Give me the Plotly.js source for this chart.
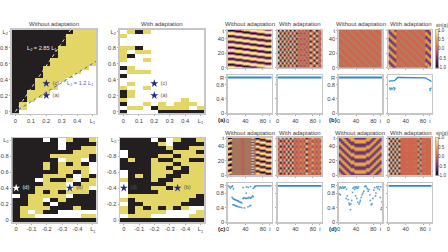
<!DOCTYPE html>
<html><head><meta charset="utf-8">
<script src="https://cdn.plot.ly/plotly-3.0.1.min.js"></script>
<style>html,body{margin:0;padding:0;background:#fff}#c{width:448px;height:252px}</style>
</head><body><div id="c"></div><script>
// Phase-diagram maps, rows listed from top to bottom. 0 white, 1 yellow, 2 black.
const mapTopNoAdapt = "22222222111 22222221111 22222221111 22222221111 22222211111 22222211111 22222211111 22222111111 22222111111 22221111110 22221111100 22221111000 22211110000 22211100000 22211100000 22111000000 22110000000 22100000000 21000000000 21000000000 20000000000".split(" ");
const mapTopAdapt = "01210000000 10000000000 00000000000 00000000000 11200000000 10110000000 12000000000 10010000000 00000000000 21000000000 01110000000 20000000000 00000000000 01000000000 10010000000 21000000000 21000000000 10000000100 20010101110 01102111101 20000222222".split(" ");
const mapBotNoAdapt = "22220201221 22222202222 22222202211 22222222111 22222111112 22222201102 22221212120 22221211110 22222211210 22221112012 22201221021 22221110211 22211110110 22212121112 02111110222 22110212222 22112022222 21111222122 21012200000 21100000011 22222222222".split(" ");
const mapBotAdapt = "22220201221 22222102222 22222212211 02222221112 02222112111 21221221122 22221112111 22221121211 02221112211 02121122111 12221221111 02222211111 02221121111 02222111111 01111111112 12111111122 02211111222 12121212100 12111100001 01110000011 22222222222".split(" ");
const posAxis = [0,0.05,0.1,0.15,0.2,0.25,0.3,0.35,0.4,0.45,0.5];
const posAxisY = [0,0.05,0.1,0.15,0.2,0.25,0.3,0.35,0.4,0.45,0.5,0.55,0.6,0.65,0.7,0.75,0.8,0.85,0.9,0.95,1];

// Spatio-temporal fields, rows top (late t) to bottom. Digits: sin(phi) level, m / g: blended tones.
const fieldA1 = "003388998833 330033889988 883300338899 998833003388 889988330033 338899883300 003388998833 330033889988 883300338899 998833003388 889988330033 338899883300 003388998833 330033889988 883300338899 998833003388 889988330033 338899883300 003388998833 330033889988 883300338899 998833003388 889988330033 338899883300 003388998833 330033889988 883300338899 998833003388 889988330033 338899883300 003388998833 330033889988 883300338899 998833003388 889988330033 338899883300 003388998833 330033889988 883300338899 998833003388".split(" ");
const fieldA2 = "0909180908364636069046 g5g5g5g5g5g5g5g5g5g5g5 9090819190635363960953 g5g5g5g5g5g5g5g5g5g5g5 0909180908364636069046 g5g5g5g5g5g5g5g5g5g5g5 9090819190635363960953 g5g5g5g5g5g5g5g5g5g5g5 0909180908364636069046 g5g5g5g5g5g5g5g5g5g5g5 9090819190635363960953 g5g5g5g5g5g5g5g5g5g5g5 0909180908364636069046 g5g5g5g5g5g5g5g5g5g5g5 9090819190635363960953 g5g5g5g5g5g5g5g5g5g5g5 0909180908364636069046 g5g5g5g5g5g5g5g5g5g5g5 9090819190635363960953 g5g5g5g5g5g5g5g5g5g5g5 0909180908364636069046 g5g5g5g5g5g5g5g5g5g5g5 9090819190635363960953 g5g5g5g5g5g5g5g5g5g5g5 0909180908364636069046 g5g5g5g5g5g5g5g5g5g5g5 9090819190635363960953 g5g5g5g5g5g5g5g5g5g5g5".split(" ");
const fieldB1 = "5g555g555g555g555g555g 55g555g555g555g555g555 555g555g555g555g555g55 g555g555g555g555g555g5 5g555g555g555g555g555g 55g555g555g555g555g555 555g555g555g555g555g55 g555g555g555g555g555g5 5g555g555g555g555g555g 55g555g555g555g555g555 555g555g555g555g555g55 g555g555g555g555g555g5 5g555g555g555g555g555g 55g555g555g555g555g555 555g555g555g555g555g55 g555g555g555g555g555g5 5g555g555g555g555g555g 55g555g555g555g555g555 555g555g555g555g555g55 g555g555g555g555g555g5".split(" ");
const fieldB2 = "27725g555g555g555g5227 227755g555g555g555g722 7227555g555g555g555772 7722g555g555g555g55277 27725g555g555g555g5227 227755g555g555g555g722 7227555g555g555g555772 7722g555g555g555g55277 27725g555g555g555g5227 227755g555g555g555g722 7227555g555g555g555772 7722g555g555g555g55277 27725g555g555g555g5227 227755g555g555g555g722 7227555g555g555g555772 7722g555g555g555g55277 27725g555g555g555g5227 227755g555g555g555g722 7227555g555g555g555772 7722g555g555g555g55277".split(" ");
const fieldC1 = "00mmmmm4mmmm9m00777999 79mmmmm4mmmm2m44000777 97mmmmm4mmmm9m99444000 40mmmmm4mmmm2m77999444 00mmmmm4mmmm9m00777999 79mmmmm4mmmm2m44000777 97mmmmm4mmmm9m99444000 40mmmmm4mmmm2m77999444 00mmmmm4mmmm9m00777999 79mmmmm4mmmm2m44000777 97mmmmm4mmmm9m99444000 40mmmmm4mmmm2m77999444 00mmmmm4mmmm9m00777999 79mmmmm4mmmm2m44000777 97mmmmm4mmmm9m99444000 40mmmmm4mmmm2m77999444 00mmmmm4mmmm9m00777999 79mmmmm4mmmm2m44000777 97mmmmm4mmmm9m99444000 40mmmmm4mmmm2m77999444 00mmmmm4mmmm9m00777999 79mmmmm4mmmm2m44000777 97mmmmm4mmmm9m99444000 40mmmmm4mmmm2m77999444 00mmmmm4mmmm9m00777999 79mmmmm4mmmm2m44000777 97mmmmm4mmmm9m99444000 40mmmmm4mmmm2m77999444".split(" ");
const fieldC2 = "3928190936474705484647 g5g5g5g5g5g5g5g5g5g5g5 7061909163636395636363 55555555555555g5555555 3928190936474705484647 g5g5g5g5g5g5g5g5g5g5g5 7061909163636395636363 55555555555555g5555555 3928190936474705484647 g5g5g5g5g5g5g5g5g5g5g5 7061909163636395636363 55555555555555g5555555 3928190936474705484647 g5g5g5g5g5g5g5g5g5g5g5 7061909163636395636363 55555555555555g5555555 3928190936474705484647 g5g5g5g5g5g5g5g5g5g5g5 7061909163636395636363 55555555555555g5555555 3928190936474705484647 g5g5g5g5g5g5g5g5g5g5g5 7061909163636395636363 55555555555555g5555555 3928190936474705484647 g5g5g5g5g5g5g5g5g5g5g5 7061909163636395636363 55555555555555g5555555".split(" ");
const fieldD1 = "2772277722222277722772 2277227777777777227722 7227722277777722277227 7722772222222222772277 2772277722222277722772 2277227777777777227722 7227722277777722277227 7722772222222222772277 2772277722222277722772 2277227777777777227722 7227722277777722277227 7722772222222222772277 2772277722222277722772 2277227777777777227722 7227722277777722277227 7722772222222222772277 2772277722222277722772 2277227777777777227722 7227722277777722277227 7722772222222222772277".split(" ");
const fieldD2 = "0909095555555557255555 gg5ggg555g555g5gg5g555 9090905555555552755555 5g5g5g5555555555g55555 0909095555555557255555 gg5ggg555g555g5gg5g555 9090905555555552755555 5g5g5g5555555555g55555 0909095555555557255555 gg5ggg555g555g5gg5g555 9090905555555552755555 5g5g5g5555555555g55555 0909095555555557255555 gg5ggg555g555g5gg5g555 9090905555555552755555 5g5g5g5555555555g55555 0909095555555557255555 gg5ggg555g555g5gg5g555 9090905555555552755555 5g5g5g5555555555g55555 0909095555555557255555 gg5ggg555g555g5gg5g555 9090905555555552755555 5g5g5g5555555555g55555 0909095555555557255555 gg5ggg555g555g5gg5g555 9090905555555552755555 5g5g5g5555555555g55555".split(" ");
const barLevels = [-1,-0.8,-0.6,-0.4,-0.2,0,0.2,0.4,0.6,0.8,1];

// Order parameter R versus oscillator i
const syncX = [0,100];
const syncR = [1,1];
const bLineX = [1,4,8,12,14,16,18,20,22,26,84,86,88,90,92,94,96,98,100];
const bLineR = [0.9,0.9,0.9,0.9,0.91,0.93,0.96,0.98,1,1,1,0.99,0.97,0.95,0.94,0.93,0.92,0.9,0.88];
const bDotsX = [3,5,7,9,12,14,15,96,97,99];
const bDotsR = [0.7,0.66,0.7,0.68,0.72,0.66,0.7,0.68,0.64,0.7];
const cDotsX = [2,4,6,8,10,11,13,35,43,47,52,58,60,62,10,12,14,16,18,20,22,24,26,28,30,32,12,14,16,18,20,22,25,28,32,35,37,40,42,45,47,50,52,54,56,58,46,50,52,38,42];
const cDotsR = [1,0.97,0.93,0.97,0.98,1,0.92,0.95,0.97,0.96,0.98,0.93,0.96,0.98,0.68,0.65,0.63,0.62,0.61,0.6,0.59,0.58,0.56,0.55,0.54,0.53,0.48,0.47,0.46,0.45,0.44,0.43,0.42,0.41,0.4,0.65,0.67,0.66,0.65,0.66,0.67,0.68,0.66,0.68,0.72,0.7,0.42,0.44,0.46,0.39,0.8];
const cLineX = [60,64,100];
const cLineR = [0.98,1,1];
const dDotsX = [1,3,5,7,2,4,9,11,13,15,18,20,17,22,25,24,27,28,30,32,33,35,37,38,40,42,44,46,39,42,44,47,49,50,52,54,56,58,60,62,64,66,68,70,72,73,75,77,79,81,83,85,86,88,90,92,94,96,97,99,100,98];
const dDotsR = [0.92,0.97,0.95,0.93,0.78,0.75,0.98,0.94,0.95,0.97,0.91,0.72,0.65,0.62,0.47,0.52,0.34,0.5,0.6,0.82,0.93,0.96,0.9,0.97,0.94,0.97,0.93,0.97,0.72,0.65,0.55,0.5,0.55,0.6,0.68,0.75,0.8,0.85,0.98,1,0.97,0.92,0.85,0.9,0.75,0.6,0.48,0.5,0.65,0.88,0.95,0.72,0.8,0.97,0.93,0.98,0.9,0.68,0.97,0.4,0.55,0.35];

// Tick labels
const titleOff = "Without adaptation", titleOn = "With adaptation";
const posTicksX = [0,0.1,0.2,0.3,0.4,0.5], posLabelsX = ["0","0.1","0.2","0.3","0.4","L<sub>1</sub>"];
const posTicksY = [0,0.2,0.4,0.6,0.8,1], posLabelsY = ["0","0.2","0.4","0.6","0.8","L<sub>2</sub>"];
const negTicksX = [0,-0.1,-0.2,-0.3,-0.4,-0.5], negLabelsX = ["0","-0.1","-0.2","-0.3","-0.4","L<sub>1</sub>"];
const negTicksY = [0,-0.2,-0.4,-0.6,-0.8,-1], negLabelsY = ["0","-0.2","-0.4","-0.6","-0.8","L<sub>2</sub>"];
const tTicks = [0,20,40,51], tLabels = ["0","20","40","t"];
const iTicks = [0,40,80,96], iLabels = ["0","40","80","i"];
const rTicks = [0,0.4,0.8,1], rLabels = ["0","0.4","0.8","R"];
const barTicks = [-1,-0.5,0,0.5,1], barLabels = ["-1.0","-0.5","0.0","0.5","1.0"];

const W = 448, H = 252, FONT = "Liberation Sans, Arial, sans-serif";
const TXT = "#3c3c3c", FS = 5.7, GRAY = "#c6c6c6";
const NAVY = "#1d2a8a", BLUE = "#2d87c9", YEL = "#e3d666", BLK = "#231f20";
const mapScale = [[0,"#ffffff"],[0.5,YEL],[1,BLK]];
const levels = "0123456789mg";
const tones = ["#0c0a2e","#3a2260","#6a3580","#94457a","#bd5a5a","#cf664c","#de7f40","#eba53c","#f5cd6e","#fcf0b5","#a8745c","#a08a74"];
const fieldScale = tones.map((c,i)=>[i/11,c]);
const barScale = [[0,"#0c0a2e"],[0.25,"#6a3580"],[0.5,"#cf664c"],[0.75,"#eba53c"],[1,"#fcf0b5"]];

const traces = [], annotations = [], layout = {width:W,height:H,margin:{l:0,r:0,t:0,b:0},paper_bgcolor:"#fff",plot_bgcolor:"#fff",showlegend:false,font:{family:FONT,size:FS,color:TXT}};
let n = 0;
function box(x0,x1,y0,y1,xo,yo){
  n++;
  const base = {showgrid:false,zeroline:false,showline:true,mirror:true,linecolor:GRAY,linewidth:1.5,ticks:"outside",ticklen:1,tickwidth:0.6,tickcolor:"#777",tickfont:{family:FONT,size:FS,color:TXT},tickmode:"array",automargin:false};
  layout["xaxis"+n] = Object.assign({},base,{domain:[x0/W,x1/W],anchor:"y"+n,tickangle:0},xo);
  layout["yaxis"+n] = Object.assign({},base,{domain:[1-y1/H,1-y0/H],anchor:"x"+n},yo);
  return {xaxis:"x"+n,yaxis:"y"+n};
}
function note(text,px,py,o){
  annotations.push(Object.assign({text,x:px/W,y:1-py/H,xref:"paper",yref:"paper",showarrow:false,xanchor:"center",yanchor:"middle",borderpad:0,font:{family:FONT,size:6,color:TXT}},o||{}));
}
function mapPanel(rows,x0,x1,y0,y1,neg){
  const z = rows.slice().reverse().map(r=>r.split("").map(Number));
  const xv = neg?posAxis.map(v=>-v):posAxis, yv = neg?posAxisY.map(v=>-v):posAxisY;
  const a = box(x0,x1,y0,y1,
    {range:neg?[0.025,-0.525]:[-0.025,0.525],tickvals:neg?negTicksX:posTicksX,ticktext:neg?negLabelsX:posLabelsX},
    {range:neg?[0.025,-1.025]:[-0.025,1.025],tickvals:neg?negTicksY:posTicksY,ticktext:neg?negLabelsY:posLabelsY});
  traces.push(Object.assign({type:"heatmap",z,x:xv,y:yv,colorscale:mapScale,zmin:0,zmax:2,showscale:false,hoverinfo:"skip"},a));
  return a;
}
function star(a,x,y,label,starColor,textColor){
  traces.push(Object.assign({type:"scatter",mode:"markers+text",x:[x],y:[y],text:[" "+label],textposition:"middle right",textfont:{family:FONT,size:5.6,color:textColor},marker:{symbol:"star",size:6,color:starColor},cliponaxis:false,hoverinfo:"skip"},a));
}
function fieldPanel(rows,x0,x1,y0,y1,showY){
  const z = rows.slice().reverse().map(r=>r.split("").map(ch=>levels.indexOf(ch)));
  const nx = z[0].length, ny = z.length;
  const a = box(x0,x1,y0,y1,
    {range:[0,100],tickvals:[0,40,80],showticklabels:false},
    {range:[0,52],tickvals:tTicks,ticktext:tLabels,showticklabels:showY});
  traces.push(Object.assign({type:"heatmap",z,x0:50/nx,dx:100/nx,y0:26/ny,dy:52/ny,colorscale:fieldScale,zmin:0,zmax:11,zsmooth:"fast",showscale:false,hoverinfo:"skip"},a));
}
function rPanel(x0,x1,y0,y1,showY,series){
  const a = box(x0,x1,y0,y1,
    {range:[0,100],tickvals:iTicks,ticktext:iLabels},
    {range:[0,1.07],tickvals:rTicks,ticktext:rLabels,showticklabels:showY});
  series.forEach(s=>{
    if(s.kind==="line") traces.push(Object.assign({type:"scatter",mode:"lines",x:s.x,y:s.y,line:{color:BLUE,width:s.w||1.8},hoverinfo:"skip"},a));
    else traces.push(Object.assign({type:"scatter",mode:"markers",x:s.x,y:s.y,marker:{color:BLUE,size:1.8,opacity:0.8},hoverinfo:"skip"},a));
  });
}
function colorBar(y0,y1){
  const a = box(435.5,438.5,y0,y1,
    {range:[0,1],tickvals:[],showticklabels:false,ticks:"",linewidth:0.6,linecolor:"#888"},
    {range:[-1,1],tickvals:barTicks,ticktext:barLabels,side:"right",ticks:"",linewidth:0.6,linecolor:"#888",ticklabelstandoff:-2,tickfont:{family:FONT,size:4.6,color:TXT}});
  traces.push(Object.assign({type:"heatmap",z:barLevels.map(v=>[v]),x:[0.5],y:barLevels,colorscale:barScale,zmin:-1,zmax:1,zsmooth:"fast",showscale:false,hoverinfo:"skip"},a));
  note("sin(φ)",441.5,y0-4,{font:{family:FONT,size:4.6,color:TXT}});
}

// left block: phase diagrams
const m1 = mapPanel(mapTopNoAdapt,11.6,96.4,29.5,113.5,false);
traces.push(Object.assign({type:"scatter",mode:"lines",x:[0,0.361],y:[0,1.03],line:{color:"#e8e8e8",width:1,dash:"dot"},hoverinfo:"skip"},m1));
traces.push(Object.assign({type:"scatter",mode:"lines",x:[0.02,0.525],y:[0.024,0.63],line:{color:"#5a62b5",width:1,dash:"dot"},hoverinfo:"skip"},m1));
star(m1,0.2,0.35,"(c)",NAVY,"#555");
star(m1,0.2,0.2,"(a)",NAVY,"#555");
const m2 = mapPanel(mapTopAdapt,119.6,204.4,29.5,113.5,false);
star(m2,0.2,0.35,"(c)",NAVY,"#555");
star(m2,0.2,0.2,"(a)",NAVY,"#555");
const m3 = mapPanel(mapBotNoAdapt,12.3,96.7,138,222,true);
star(m3,0,-0.4,"(d)","#ffffff","#e8e8e8");
star(m3,-0.35,-0.4,"(b)",NAVY,"#555");
const m4 = mapPanel(mapBotAdapt,120,204.4,138,222,true);
star(m4,0,-0.4,"(d)",NAVY,"#555");
star(m4,-0.35,-0.4,"(b)",NAVY,"#555");
note(titleOff,54,24); note(titleOn,162,24);
note("L<sub>2</sub> = 2.85 L<sub>1</sub>",41.5,48,{font:{family:FONT,size:5.6,color:"#f0f0f0"}});
note("L<sub>2</sub> = 1.2 L<sub>1</sub>",80,83.5,{font:{family:FONT,size:5.6,color:"#5a62b5"}});

// right block
fieldPanel(fieldA1,227.7,271.7,30,67.7,true);
fieldPanel(fieldA2,277.7,321.7,30,67.7,false);
fieldPanel(fieldB1,338.7,382,30,67.7,true);
fieldPanel(fieldB2,388.3,431.7,30,67.7,false);
fieldPanel(fieldC1,227.7,271.7,137.7,175.3,true);
fieldPanel(fieldC2,277.7,321.7,137.7,175.3,false);
fieldPanel(fieldD1,338.7,382,137.7,175.3,true);
fieldPanel(fieldD2,388.3,431.7,137.7,175.3,false);
colorBar(30,67.7);
colorBar(137.7,175.3);

const syncLine = {kind:"line",x:syncX,y:syncR};
rPanel(227.7,271.7,75,113.3,true,[syncLine]);
rPanel(277.7,321.7,75,113.3,false,[syncLine]);
rPanel(338.7,382,75,113.3,true,[syncLine]);
rPanel(388.3,431.7,75,113.3,false,[{kind:"line",x:bLineX,y:bLineR,w:1.3},{kind:"dots",x:bDotsX,y:bDotsR}]);
rPanel(227.7,271.7,183.3,222,true,[{kind:"line",x:cLineX,y:cLineR,w:1.3},{kind:"dots",x:cDotsX,y:cDotsR}]);
rPanel(277.7,321.7,183.3,222,false,[syncLine]);
rPanel(338.7,382,183.3,222,true,[{kind:"dots",x:dDotsX,y:dDotsR}]);
rPanel(388.3,431.7,183.3,222,false,[syncLine]);

note(titleOff,249.7,24.5); note(titleOn,300,24.5);
note(titleOff,360.5,24.5); note(titleOn,411.3,24.5);
note(titleOff,249.7,132.5); note(titleOn,299.7,132.5);
note(titleOff,360,132.5); note(titleOn,411,132.5);
const bold = {font:{family:FONT,size:6,color:"#222"}};
note("<b>(a)</b>",221,120,bold); note("<b>(b)</b>",332.5,120,bold);
note("<b>(c)</b>",221,228.5,bold); note("<b>(d)</b>",332.5,228.5,bold);

layout.annotations = annotations;
Plotly.newPlot("c",traces,layout,{displayModeBar:false,staticPlot:true});
</script></body></html>
